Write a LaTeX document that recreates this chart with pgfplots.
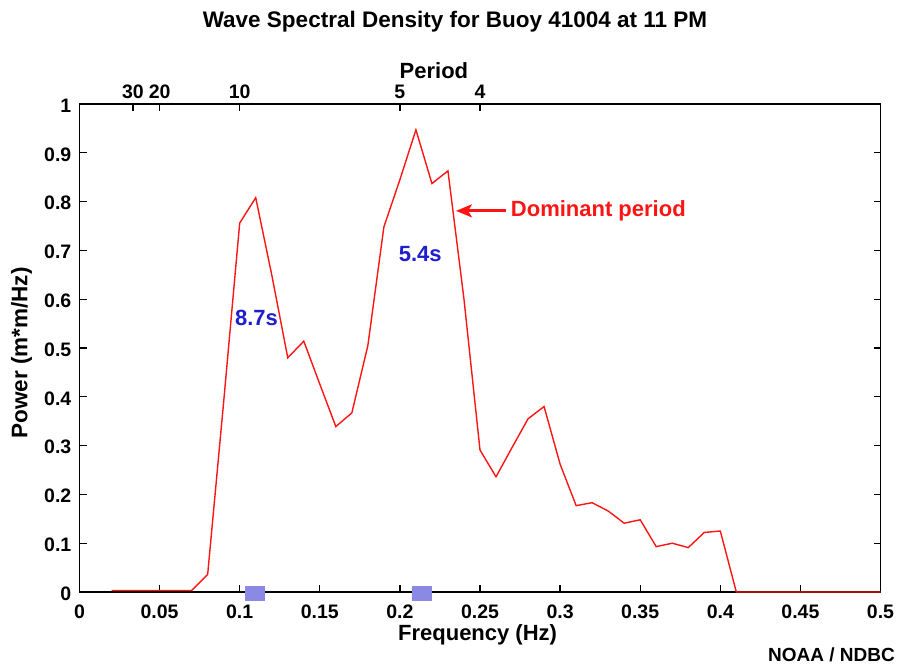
\documentclass[border=0pt]{standalone}
\usepackage{fontspec}
\setmainfont{Liberation Sans}
\usepackage{pgfplots}
\pgfplotsset{compat=1.18}
\usetikzlibrary{arrows.meta}
\definecolor{wred}{RGB}{255,20,20}
\definecolor{wblue}{RGB}{30,30,205}
\definecolor{sqblue}{RGB}{138,138,228}
\begin{document}
\begin{tikzpicture}
\path[use as bounding box] (-79.5pt,-73pt) rectangle (821.5pt,592pt);
\begin{axis}[
  at={(0pt,0pt)}, anchor=south west,
  scale only axis, width=801pt, height=488pt,
  xmin=0, xmax=0.5, ymin=0, ymax=1,
  clip=false,
  axis line style={line width=1.4pt, black},
  tick style={line width=1.3pt, black},
  major tick length=7pt,
  tick align=inside,
  xtick pos=bottom, ytick pos=both, yticklabel pos=left,
  scaled x ticks=false, scaled y ticks=false,
  xtick={0,0.05,0.1,0.15,0.2,0.25,0.3,0.35,0.4,0.45,0.5},
  xticklabels={0,0.05,0.1,0.15,0.2,0.25,0.3,0.35,0.4,0.45,0.5},
  ytick={0,0.1,0.2,0.3,0.4,0.5,0.6,0.7,0.8,0.9,1},
  yticklabels={0,0.1,0.2,0.3,0.4,0.5,0.6,0.7,0.8,0.9,1},
  xticklabel style={font=\fontsize{19.5}{22}\selectfont\bfseries, anchor=center, yshift=-20pt, inner sep=0pt},
  yticklabel style={font=\fontsize{19.5}{22}\selectfont\bfseries, anchor=east, xshift=-8pt, yshift=-1.5pt, inner sep=0pt},
  xlabel={Frequency (Hz)},
  ylabel={Power (m*m/Hz)},
  every axis x label/.style={at={(rel axis cs:0.497,0)}, anchor=center, yshift=-43pt, font=\fontsize{22}{26}\selectfont\bfseries},
  every axis y label/.style={at={(rel axis cs:0,0.49)}, anchor=center, rotate=90, yshift=58pt, font=\fontsize{22.5}{26}\selectfont\bfseries},
]
\addplot[wred, line width=1.4pt] coordinates {
(0.02,0.003)(0.03,0.003)(0.04,0.003)(0.05,0.003)(0.06,0.003)(0.07,0.003)
(0.08,0.036)(0.09,0.39)(0.10,0.756)(0.11,0.808)(0.12,0.65)(0.13,0.48)
(0.14,0.514)(0.15,0.426)(0.16,0.339)(0.17,0.367)(0.18,0.505)(0.19,0.748)
(0.20,0.845)(0.21,0.947)(0.22,0.837)(0.23,0.863)(0.24,0.60)(0.25,0.291)
(0.26,0.236)(0.27,0.296)(0.28,0.355)(0.29,0.38)(0.30,0.262)(0.31,0.177)
(0.32,0.183)(0.33,0.166)(0.34,0.141)(0.35,0.148)(0.36,0.093)(0.37,0.10)
(0.38,0.091)(0.39,0.122)(0.40,0.125)(0.41,0.0)(0.42,0.0)(0.43,0.0)
(0.44,0.0)(0.45,0.0)(0.46,0.0)(0.47,0.0)(0.48,0.0)(0.49,0.0)(0.50,0.0)
};
\addplot[draw=none, fill=sqblue] coordinates {(0.1035,-0.018)(0.1158,-0.018)(0.1158,0.013)(0.1035,0.013)};
\addplot[draw=none, fill=sqblue] coordinates {(0.2077,-0.018)(0.2200,-0.018)(0.2200,0.013)(0.2077,0.013)};
\addplot[wred, line width=2.8pt, -{Stealth[length=16pt,width=13pt,inset=4pt]}] coordinates {(0.2662,0.781)(0.2350,0.781)};
\node[anchor=west, text=wred, font=\fontsize{22}{26}\selectfont\bfseries, inner sep=0pt] at (axis cs:0.2692,0.781) {Dominant period};
\node[text=wblue, font=\fontsize{22}{26}\selectfont\bfseries, inner sep=0pt] at (axis cs:0.1105,0.562) {8.7s};
\node[text=wblue, font=\fontsize{22}{26}\selectfont\bfseries, inner sep=0pt] at (axis cs:0.2127,0.693) {5.4s};
\end{axis}
\begin{axis}[
  at={(0pt,0pt)}, anchor=south west,
  scale only axis, width=801pt, height=488pt,
  xmin=0, xmax=0.5, ymin=0, ymax=1,
  axis x line*=top, axis y line=none,
  axis line style={line width=1.4pt, black},
  tick style={line width=1.3pt, black},
  major tick length=7pt,
  tick align=inside,
  scaled x ticks=false,
  xtick={0.0333333,0.05,0.1,0.2,0.25},
  xticklabels={30,20,10,5,4},
  xticklabel style={font=\fontsize{19.5}{22}\selectfont\bfseries, anchor=center, yshift=12.5pt, inner sep=0pt},
  xlabel={Period},
  every axis x label/.style={at={(rel axis cs:0.4425,1)}, anchor=base, yshift=25pt, font=\fontsize{22}{26}\selectfont\bfseries},
]
\addplot[draw=none] coordinates {(0,0)(0.5,1)};
\end{axis}
\node[anchor=base, font=\fontsize{22.5}{26}\selectfont\bfseries, inner sep=0pt] at (375.5pt,564.3pt) {Wave Spectral Density for Buoy 41004 at 11 PM};
\node[anchor=east, font=\fontsize{19}{22}\selectfont\bfseries, inner sep=0pt] at (815.5pt,-63pt) {NOAA / NDBC};
\end{tikzpicture}
\end{document}
